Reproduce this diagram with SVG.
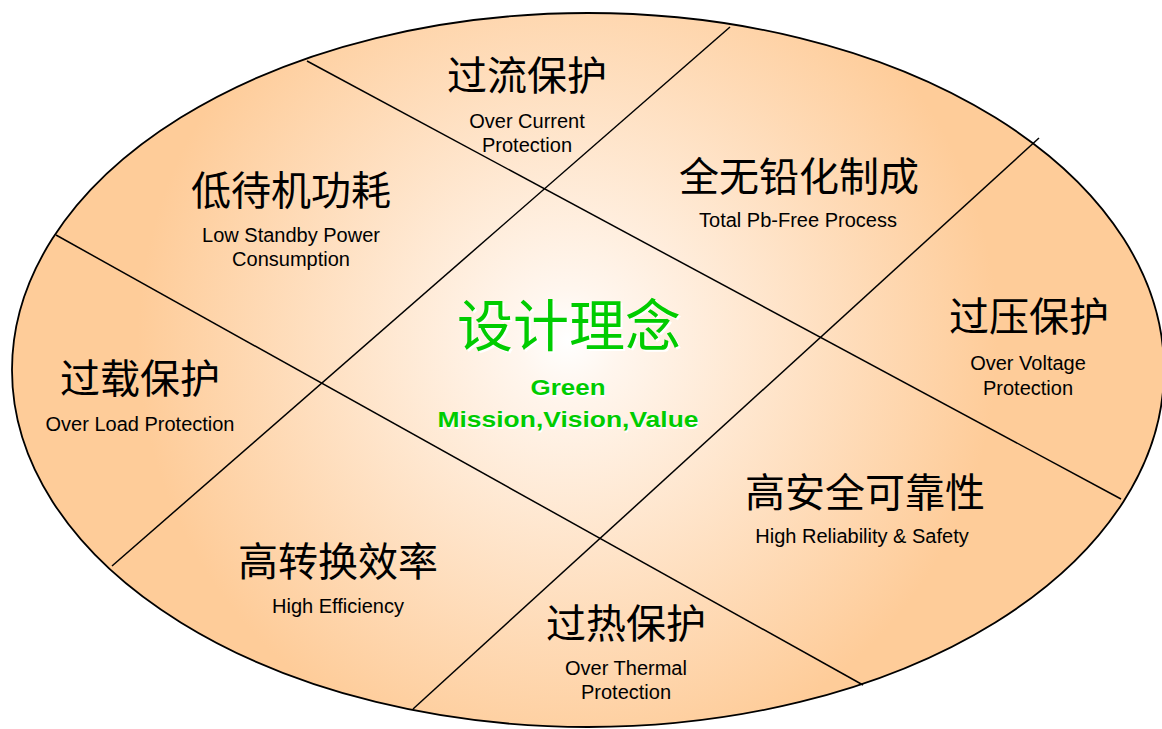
<svg xmlns="http://www.w3.org/2000/svg" width="1162" height="729" viewBox="0 0 1162 729">
<defs>
<radialGradient id="bg" gradientUnits="userSpaceOnUse" cx="568" cy="340" r="430">
<stop offset="0" stop-color="#FFFFFF"/>
<stop offset="0.12" stop-color="#FFF6EE"/>
<stop offset="1" stop-color="#FECC99"/>
</radialGradient>
<style>
.cn{font-family:"Noto Sans CJK SC","Noto Sans CJK JP",sans-serif;font-size:40px;fill:#000;text-anchor:middle}
.en{font-family:"Liberation Sans",Arial,sans-serif;font-size:20px;fill:#000;text-anchor:middle}
.gcn{font-family:"Noto Sans CJK SC","Noto Sans CJK JP",sans-serif;font-size:56px;text-anchor:middle}
.gen{font-family:"Liberation Sans",Arial,sans-serif;font-size:22px;font-weight:bold;text-anchor:middle}
.g{fill:#00CC00}
.w{fill:#FFFFFF}
.ln{stroke:#000;stroke-width:1.5;fill:none}
</style>
</defs>
<rect width="1162" height="729" fill="#FFFFFF"/>
<g id="ellipse">
<ellipse cx="588" cy="370" rx="576" ry="357" fill="url(#bg)" stroke="#000" stroke-width="1.8"/>
</g>
<g id="connectors">
<line class="ln" x1="307" y1="61" x2="1121" y2="499"/>
<line class="ln" x1="56" y1="235" x2="863" y2="685"/>
<line class="ln" x1="730" y1="27" x2="112" y2="566"/>
<line class="ln" x1="1039" y1="138" x2="413" y2="709"/>
</g>
<g id="center">
<text class="gcn w" x="571" y="348">设计理念</text>
<text class="gcn g" x="569" y="346">设计理念</text>
<text class="gen w" x="569" y="397" textLength="75" lengthAdjust="spacingAndGlyphs">Green</text>
<text class="gen g" x="568" y="395" textLength="75" lengthAdjust="spacingAndGlyphs">Green</text>
<text class="gen w" x="569" y="429" textLength="261" lengthAdjust="spacingAndGlyphs">Mission,Vision,Value</text>
<text class="gen g" x="568" y="427" textLength="261" lengthAdjust="spacingAndGlyphs">Mission,Vision,Value</text>
</g>
<g id="over-current">
<text class="cn" x="527" y="90">过流保护</text>
<text class="en" x="527" y="128">Over Current</text>
<text class="en" x="527" y="152">Protection</text>
</g>
<g id="low-standby">
<text class="cn" x="291" y="205">低待机功耗</text>
<text class="en" x="291" y="242">Low Standby Power</text>
<text class="en" x="291" y="266">Consumption</text>
</g>
<g id="pb-free">
<text class="cn" x="799" y="191">全无铅化制成</text>
<text class="en" x="798" y="227">Total Pb-Free Process</text>
</g>
<g id="over-voltage">
<text class="cn" x="1029" y="331">过压保护</text>
<text class="en" x="1028" y="370">Over Voltage</text>
<text class="en" x="1028" y="395">Protection</text>
</g>
<g id="over-load">
<text class="cn" x="140" y="393">过载保护</text>
<text class="en" x="140" y="431">Over Load Protection</text>
</g>
<g id="reliability">
<text class="cn" x="865" y="507">高安全可靠性</text>
<text class="en" x="862" y="543">High Reliability &amp; Safety</text>
</g>
<g id="efficiency">
<text class="cn" x="338" y="576">高转换效率</text>
<text class="en" x="338" y="613">High Efficiency</text>
</g>
<g id="over-thermal">
<text class="cn" x="626" y="638">过热保护</text>
<text class="en" x="626" y="675">Over Thermal</text>
<text class="en" x="626" y="699">Protection</text>
</g>
</svg>
